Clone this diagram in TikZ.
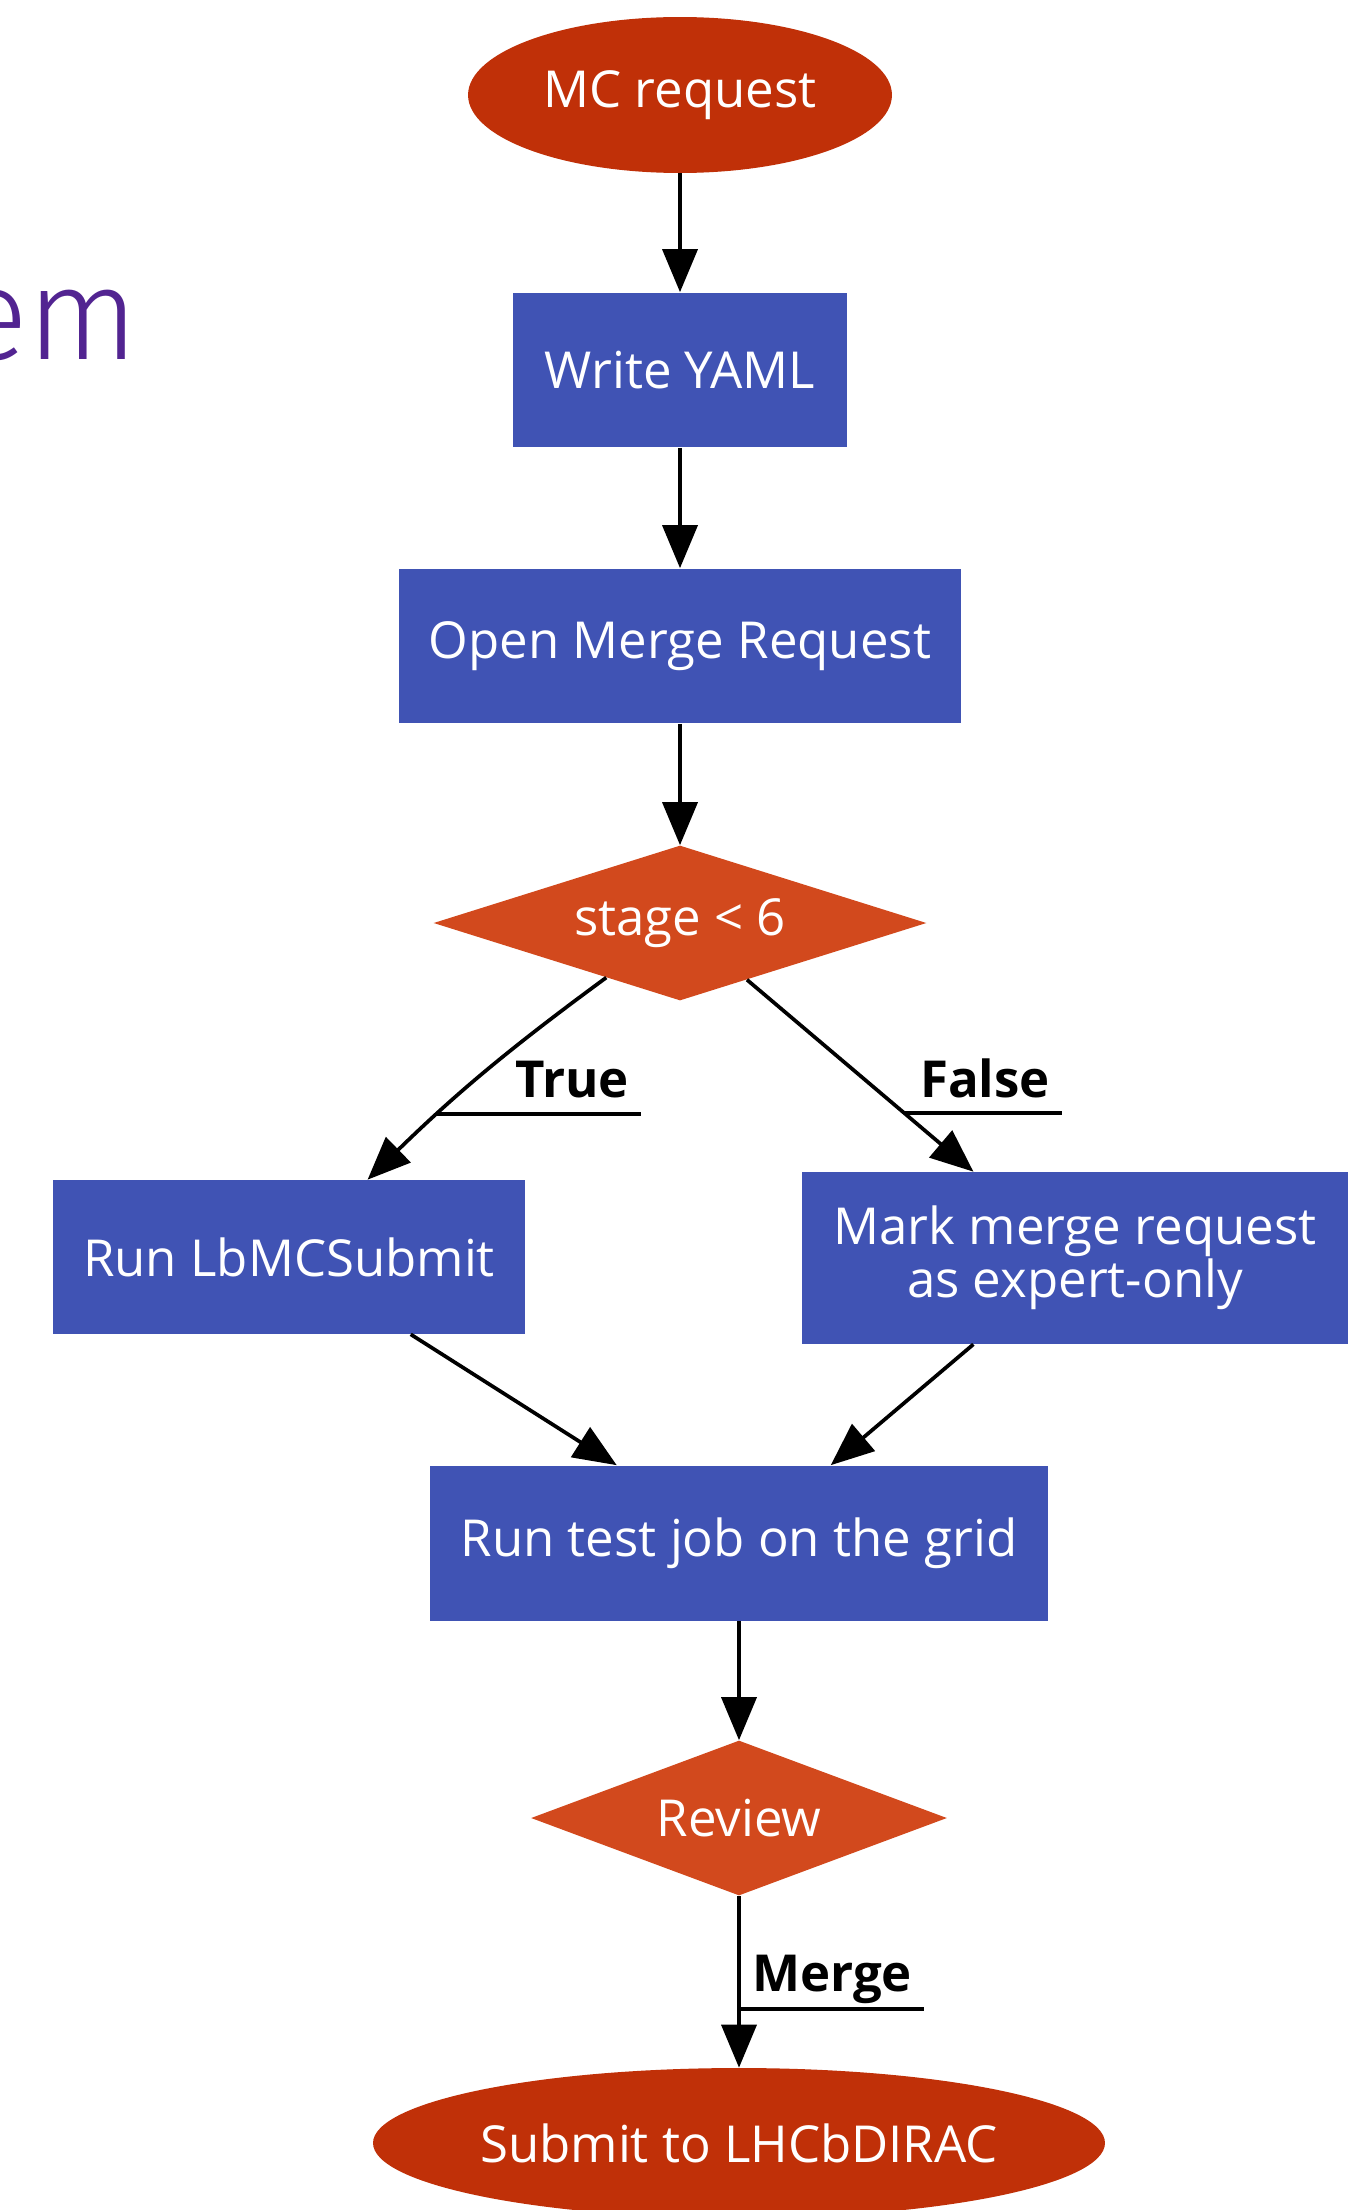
\documentclass[tikz,border=0pt]{standalone}
\usepackage{fontspec}
\setmainfont{Open Sans}
\newfontfamily\titlefont{Fira Sans Light}
\usetikzlibrary{shapes.geometric,arrows.meta,calc}
\definecolor{mcred}{RGB}{192,48,8}
\definecolor{choicered}{RGB}{210,73,29}
\definecolor{taskblue}{RGB}{64,83,180}
\definecolor{themepurple}{RGB}{82,36,145}

\begin{document}
\begin{tikzpicture}[x=0.02cm,y=-0.02cm,
  every node/.style={font=\fontsize{29}{30}\selectfont},
  terminal/.style={ellipse,fill=mcred,text=white,inner sep=0pt},
  task/.style={rectangle,fill=taskblue,text=white,inner sep=0pt,align=center},
  choice/.style={diamond,fill=choicered,text=white,inner sep=0pt},
  flow/.style={line width=0.074cm,-{Triangle[length=0.86cm,width=0.7cm]}},
  underline/.style={line width=0.074cm},
  tag/.style={font=\bfseries\fontsize{29}{30}\selectfont,inner sep=0pt,anchor=base}]
\useasboundingbox (0,0) rectangle (1358,2210);
\clip (0,0) rectangle (1358,2210);
% cut-off slide title
\node[anchor=base east,inner sep=0pt,text=themepurple,font=\titlefont\fontsize{74}{80}\selectfont] (title) at (139,359) {em};
% nodes
\node[terminal,minimum width=8.48cm,minimum height=3.12cm] (mc) at (680,95) {MC request};
\node[task,minimum width=6.68cm,minimum height=3.1cm] (yaml) at (680,370) {Write YAML};
\node[task,minimum width=11.24cm,minimum height=3.1cm] (mr) at (680,646) {Open Merge Request};
\node[choice,aspect=3.18,minimum width=9.86cm,minimum height=3.1cm] (stage) at (680,923) {stage < 6};
\node[task,minimum width=9.46cm,minimum height=3.08cm] (lbmc) at (289,1257) {Run LbMCSubmit};
\node[task,minimum width=10.92cm,minimum height=3.44cm] (mark) at (1075,1258) {Mark merge request\\as expert-only};
\node[task,minimum width=12.36cm,minimum height=3.1cm] (testjob) at (739,1543) {Run test job on the grid};
\node[choice,aspect=2.68,minimum width=8.32cm,minimum height=3.1cm] (review) at (739,1818) {Review};
\node[terminal,minimum width=14.5cm,minimum height=3cm] (dirac) at (739,2143) {Submit to LHCbDIRAC};
% edges
\draw[flow] (mc) -- (yaml);
\draw[flow] (yaml) -- (mr);
\draw[flow] (mr) -- (stage);
\draw[flow] (stage) to[bend right=4] coordinate[pos=0.71] (tcut) (lbmc);
\draw[flow] (stage) -- coordinate[pos=0.694] (fcut) (mark);
\draw[flow] (lbmc) -- (testjob);
\draw[flow] (mark) -- (testjob);
\draw[flow] (testjob) -- (review);
\draw[flow] (review) -- coordinate[pos=0.66] (mcut) (dirac);
% edge labels
\node[tag] (truelbl) at (572,1097) {True};
\node[tag] (falselbl) at (985,1097) {False};
\node[tag] (mergelbl) at (832,1991) {Merge};
\draw[underline] (tcut) -- ($(tcut -| truelbl.east)+(12,0)$);
\draw[underline] (fcut) -- ($(fcut -| falselbl.east)+(12,0)$);
\draw[underline] (mcut) -- ($(mcut -| mergelbl.east)+(12,0)$);
\end{tikzpicture}
\end{document}
